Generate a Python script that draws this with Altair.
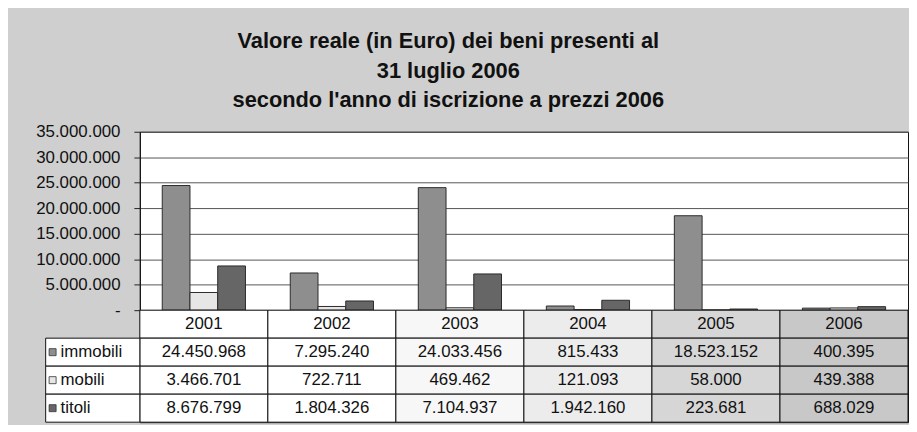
import altair as alt
import pandas as pd

# ---- data ----
years = ["2001", "2002", "2003", "2004", "2005", "2006"]
series = ["immobili", "mobili", "titoli"]
immobili = [24450968, 7295240, 24033456, 815433, 18523152, 400395]
mobili = [3466701, 722711, 469462, 121093, 58000, 439388]
titoli = [8676799, 1804326, 7104937, 1942160, 223681, 688029]
y_ticks = [0, 5000000, 10000000, 15000000, 20000000, 25000000, 30000000, 35000000]
title_lines = [
    "Valore reale (in Euro) dei beni  presenti al",
    "31 luglio 2006",
    "secondo l'anno di iscrizione a prezzi 2006",
]

def it_fmt(v):
    return f"{v:,}".replace(",", ".")

rows = []
for s, vals in zip(series, [immobili, mobili, titoli]):
    for yr, v in zip(years, vals):
        rows.append({"anno": yr, "riga": s, "serie": s, "valore": v, "testo": it_fmt(v)})
df = pd.DataFrame(rows)

table_rows = ["anni"] + series
tdf = pd.concat(
    [pd.DataFrame({"anno": years, "riga": "anni", "testo": years}),
     df[["anno", "riga", "testo"]]],
    ignore_index=True,
)
ldf = pd.DataFrame({"riga": series, "serie": series})

FONT = "Liberation Sans"
W = 775
series_colors = ["#8e8e8e", "#e6e6e6", "#666666"]
column_shades = ["#ffffff", "#ffffff", "#f7f7f7", "#ececec", "#d6d6d6", "#c8c8c8"]

fill_scale = alt.Scale(domain=series, range=series_colors)

label_expr = "datum.value == 0 ? '-' : replace(format(datum.value, ',d'), regexp(',', 'g'), '.')"

bars = alt.Chart(df).mark_bar(stroke="#2a2a2a", strokeWidth=1).encode(
    x=alt.X("anno:N", sort=years, axis=None,
            scale=alt.Scale(domain=years, paddingInner=0.35, paddingOuter=0.175)),
    xOffset=alt.XOffset("serie:N", sort=series, scale=alt.Scale(domain=series)),
    y=alt.Y("valore:Q",
            scale=alt.Scale(domain=[0, 35000000]),
            axis=alt.Axis(values=y_ticks, title=None, labelExpr=label_expr,
                          labelFontSize=17, labelFont=FONT, labelColor="#111",
                          labelPadding=14, tickSize=6, tickColor="#222",
                          domainColor="#111", grid=True, gridColor="#555",
                          gridWidth=1)),
    fill=alt.Fill("serie:N", scale=fill_scale, legend=None),
).properties(width=W, height=180)

xb = alt.X("anno:N", sort=years, axis=None,
           scale=alt.Scale(domain=years, paddingInner=0, paddingOuter=0))
yb = alt.Y("riga:N", sort=table_rows, axis=None,
           scale=alt.Scale(domain=table_rows, paddingInner=0, paddingOuter=0))

cells = alt.Chart(tdf).mark_rect(stroke="#111", strokeWidth=1).encode(
    x=xb, y=yb,
    color=alt.Color("anno:N", scale=alt.Scale(domain=years, range=column_shades), legend=None),
)
cell_text = alt.Chart(tdf).mark_text(font=FONT, fontSize=17, color="#111").encode(
    x=xb, y=yb, text="testo:N"
)
lab_rect = alt.Chart(ldf).mark_rect(stroke="#111", strokeWidth=1, fill="white").encode(
    x=alt.value(-95), x2=alt.value(0), y=yb
)
lab_sw = alt.Chart(ldf).mark_square(size=50, stroke="#333", strokeWidth=0.8, opacity=1).encode(
    x=alt.value(-88), y=yb, fill=alt.Fill("serie:N", scale=fill_scale, legend=None)
)
lab_text = alt.Chart(ldf).mark_text(font=FONT, fontSize=17, color="#111", align="left").encode(
    x=alt.value(-80), y=yb, text="riga:N"
)

table = alt.layer(cells, cell_text, lab_rect, lab_sw, lab_text).properties(width=W, height=113)

chart = alt.vconcat(bars, table, spacing=0, bounds="flush").resolve_scale(
    x="independent", y="independent", color="independent", fill="independent"
).properties(
    title=alt.TitleParams(text=title_lines, font=FONT, fontSize=22, fontWeight="bold",
                          color="#111", lineHeight=30, anchor="middle", offset=10, dx=-24),
    padding={"left": 27, "top": 20, "right": 0, "bottom": 0},
    background="#cfcfcf",
).configure_view(stroke="#111", fill="white")

chart.save("out.html", embed_options={"renderer": "svg", "actions": False})
